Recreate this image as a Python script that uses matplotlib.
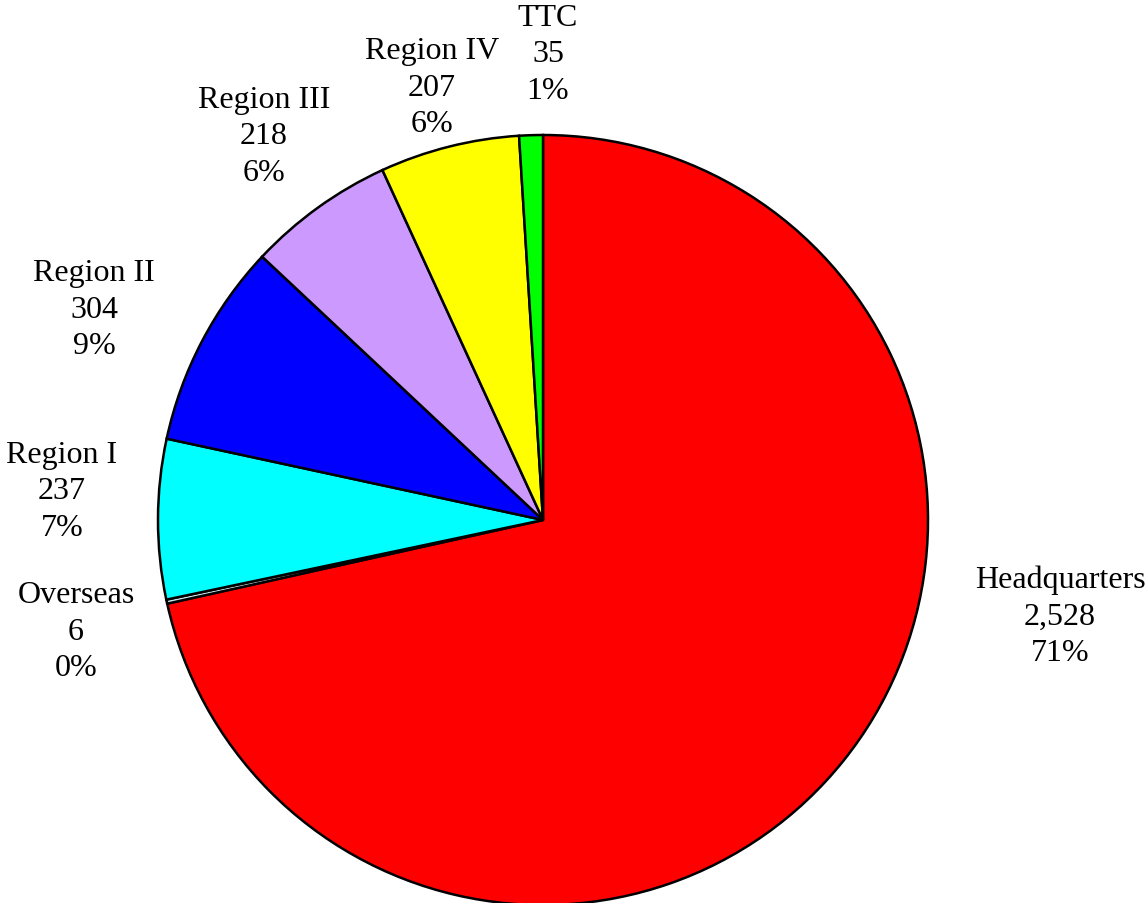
import matplotlib
matplotlib.use('Agg')
import matplotlib.pyplot as plt

names = ['Headquarters', 'Overseas', 'Region I', 'Region II', 'Region III', 'Region IV', 'TTC']
counts = [2528, 6, 237, 304, 218, 207, 35]
count_labels = ['2,528', '6', '237', '304', '218', '207', '35']
pct_labels = ['71%', '0%', '7%', '9%', '6%', '6%', '1%']
colors = ['#FF0000', '#C8E6EC', '#00FFFF', '#0000FF', '#CC99FF', '#FFFF00', '#00FF00']

# label centres in pixel coords (from top-left)
label_pos = [(1060, 617), (76, 632), (62, 492), (94, 310), (264, 137), (432, 88), (548, 55)]

W, H = 1146, 904
plt.rcParams['font.family'] = 'Liberation Serif'
fig = plt.figure(figsize=(W / 100, H / 100), dpi=100)
ax = fig.add_axes([0, 0, 1, 1])

ax.pie(counts, colors=colors, startangle=90, counterclock=False,
       center=(543, H - 521), radius=385, frame=True,
       wedgeprops=dict(edgecolor='black', linewidth=1.8))
ax.set_xlim(0, W); ax.set_ylim(0, H); ax.set_aspect('equal')
ax.axis('off')

for n, c, p, (x, y) in zip(names, count_labels, pct_labels, label_pos):
    ax.text(x, H - y, f'{n}\n{c}\n{p}', ha='center', va='center',
            fontsize=23, linespacing=1.33, color='black')

fig.savefig('out.png', dpi=100, facecolor='white')
